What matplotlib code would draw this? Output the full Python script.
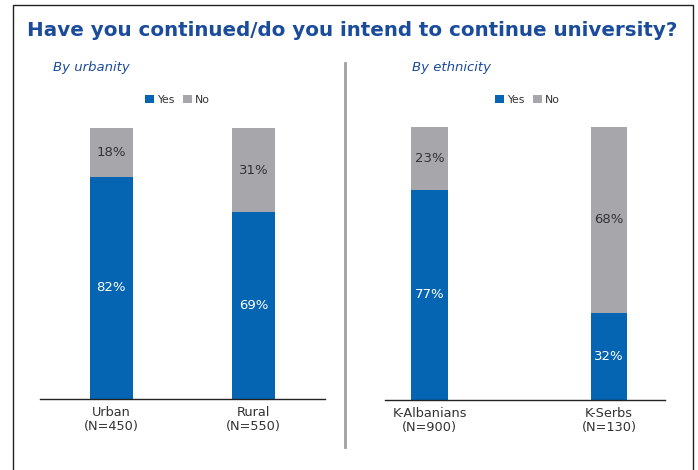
import matplotlib
matplotlib.use("Agg")
import matplotlib.pyplot as plt
from matplotlib.lines import Line2D
from matplotlib.patches import Rectangle

# Survey results: share who continued / intend to continue university
urban_cats = ["Urban\n(N=450)", "Rural\n(N=550)"]
urban_yes = [82, 69]
urban_no = [18, 31]

eth_cats = ["K-Albanians\n(N=900)", "K-Serbs\n(N=130)"]
eth_yes = [77, 32]
eth_no = [23, 68]

title = "Have you continued/do you intend to continue university?"
sub_left = "By urbanity"
sub_right = "By ethnicity"
series_names = ["Yes", "No"]

BLUE = "#0565B3"
GREY = "#A7A7AB"
TITLE_BLUE = "#1B4C9C"
TEXT = "#333333"

W, H = 698, 470
fig = plt.figure(figsize=(W / 100, H / 100), dpi=100)


def fx(px):
    return px / W


def fy(py):
    return 1 - py / H


# outer frame (bottom edge runs off the canvas)
fig.add_artist(Rectangle((fx(13), fy(480)), fx(693) - fx(13), fy(5) - fy(480),
                         transform=fig.transFigure, fill=False,
                         edgecolor="#222222", linewidth=1.0))

fig.text(fx(27), fy(30), title, fontsize=14.3, fontweight="heavy",
         color=TITLE_BLUE, va="center", ha="left")

fig.text(fx(53), fy(68), sub_left, fontsize=9.5, style="italic",
         color=TITLE_BLUE, va="center", ha="left")
fig.text(fx(412), fy(68), sub_right, fontsize=9.5, style="italic",
         color=TITLE_BLUE, va="center", ha="left")

# divider between the two panels
fig.add_artist(Line2D([fx(345), fx(345)], [fy(63), fy(447)],
                      transform=fig.transFigure, color="#A0A0A0", linewidth=2))


def panel(rect_px, cats, yes, no, width, xlim, legend_xy):
    x0, y_top, x1, y_base = rect_px
    ax = fig.add_axes([fx(x0), fy(y_base), fx(x1) - fx(x0), fy(y_top) - fy(y_base)])
    pos = list(range(len(cats)))
    ax.bar(pos, yes, width=width, color=BLUE, label=series_names[0])
    ax.bar(pos, no, width=width, bottom=yes, color=GREY, label=series_names[1])
    for p, y, n in zip(pos, yes, no):
        ax.text(p, y / 2, f"{y}%", ha="center", va="center",
                color="white", fontsize=9.5)
        ax.text(p, y + n / 2, f"{n}%", ha="center", va="center",
                color=TEXT, fontsize=9.5)
    ax.set_xlim(*xlim)
    ax.set_ylim(0, 100)
    ax.set_xticks(pos)
    ax.set_xticklabels(cats, fontsize=9.3, color=TEXT, linespacing=1.1)
    ax.tick_params(axis="x", length=0, pad=5)
    ax.set_yticks([])
    for s in ("top", "right", "left"):
        ax.spines[s].set_visible(False)
    ax.spines["bottom"].set_linewidth(1.0)
    ax.spines["bottom"].set_color("#222222")
    ax.patch.set_alpha(0)
    leg = fig.legend(handles=ax.patches[:1] + ax.patches[len(cats):len(cats) + 1],
                     labels=series_names, loc="center left",
                     bbox_to_anchor=(fx(legend_xy[0]), fy(legend_xy[1])),
                     ncol=2, frameon=False, fontsize=7.8,
                     handlelength=0.8, handleheight=0.8, handletextpad=0.3,
                     columnspacing=0.8, borderaxespad=0, borderpad=0)
    for t in leg.get_texts():
        t.set_color(TEXT)
    return ax


panel((40, 128, 325, 399), urban_cats, urban_yes, urban_no,
      0.30, (-0.5, 1.5), (145, 100))
panel((385, 127, 665, 400), eth_cats, eth_yes, eth_no,
      0.206, (-0.248, 1.312), (495, 100))

fig.savefig("out.png", dpi=100, facecolor="white")
